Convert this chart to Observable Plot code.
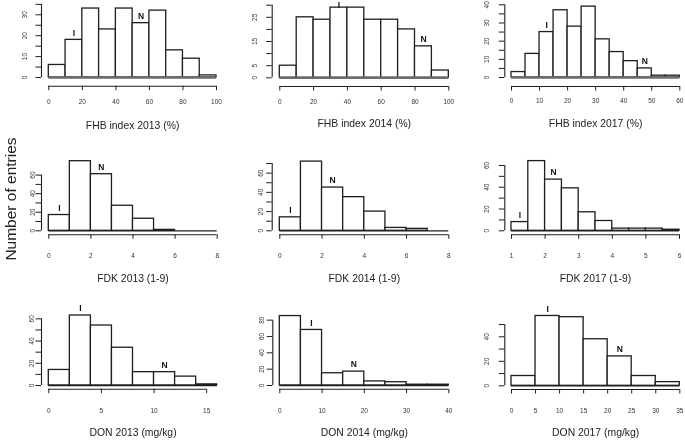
<!DOCTYPE html>
<html><head><meta charset="utf-8">
<script src="https://cdn.jsdelivr.net/npm/d3@7"></script>
<script src="https://cdn.jsdelivr.net/npm/@observablehq/plot@0.6"></script>
<style>
body{margin:0;background:#fff;}
#wrap{position:relative;width:685px;height:442px;overflow:hidden;background:#fff;font-family:"Liberation Sans",Arial,sans-serif;filter:grayscale(100%);}
#wrap svg{position:absolute;z-index:1;}
#ylab{position:absolute;z-index:5;left:11px;top:199px;transform:translate(-50%,-50%) rotate(-90deg);white-space:nowrap;font-family:"Liberation Sans",Arial,sans-serif;font-size:15.5px;color:#222;}
</style></head><body>
<div id="wrap"><div id="ylab">Number of entries</div></div>
<script>
// ---------- data ----------
const fhb2013Edges = [0,10,20,30,40,50,60,70,80,90,100];
const fhb2013Counts = [6,18,33,23,33,26,32,13,9,1];
const fhb2013XTicks = [0,20,40,60,80,100];
const fhb2013YTicks = [0,5,10,15,20,25,30,35];
const fhb2013YLabels = [0,10,20,30];
const fhb2013MarkText = ["I","N"];
const fhb2013MarkX = [15,55];

const fhb2014Edges = [0,10,20,30,40,50,60,70,80,90,100];
const fhb2014Counts = [5,25,24,29,29,24,24,20,13,3];
const fhb2014XTicks = [0,20,40,60,80,100];
const fhb2014YTicks = [0,5,10,15,20,25,30];
const fhb2014YLabels = [0,5,15,25];
const fhb2014MarkText = ["I","N"];
const fhb2014MarkX = [35,85];

const fhb2017Edges = [0,5,10,15,20,25,30,35,40,45,50,55,60];
const fhb2017Counts = [3,13,25,37,28,39,21,14,9,5,1,1];
const fhb2017XTicks = [0,10,20,30,40,50,60];
const fhb2017YTicks = [0,5,10,15,20,25,30,35,40];
const fhb2017YLabels = [0,10,20,30,40];
const fhb2017MarkText = ["I","N"];
const fhb2017MarkX = [12.5,47.5];

const fdk2013Edges = [0,1,2,3,4,5,6,7,8];
const fdk2013Counts = [17,75,61,27,13,1,0,0];
const fdk2013XTicks = [0,2,4,6,8];
const fdk2013YTicks = [0,10,20,30,40,50,60];
const fdk2013YLabels = [0,20,40,60];
const fdk2013MarkText = ["I","N"];
const fdk2013MarkX = [0.5,2.5];

const fdk2014Edges = [0,1,2,3,4,5,6,7,8];
const fdk2014Counts = [14,72,45,35,20,3,2,0];
const fdk2014XTicks = [0,2,4,6,8];
const fdk2014YTicks = [0,10,20,30,40,50,60,70];
const fdk2014YLabels = [0,20,40,60];
const fdk2014MarkText = ["I","N"];
const fdk2014MarkX = [0.5,2.5];

const fdk2017Edges = [1,1.5,2,2.5,3,3.5,4,4.5,5,5.5,6];
const fdk2017Counts = [8,64,47,39,17,9,2,2,2,1];
const fdk2017XTicks = [1,2,3,4,5,6];
const fdk2017YTicks = [0,10,20,30,40,50,60];
const fdk2017YLabels = [0,20,40,60];
const fdk2017MarkText = ["I","N"];
const fdk2017MarkX = [1.25,2.25];

const don2013Edges = [0,2,4,6,8,10,12,14,16];
const don2013Counts = [14,63,54,34,12,12,8,1];
const don2013XTicks = [0,5,10,15];
const don2013YTicks = [0,10,20,30,40,50,60];
const don2013YLabels = [0,20,40,60];
const don2013MarkText = ["I","N"];
const don2013MarkX = [3,11];

const don2014Edges = [0,5,10,15,20,25,30,35,40];
const don2014Counts = [85,68,15,17,5,4,1,1];
const don2014XTicks = [0,10,20,30,40];
const don2014YTicks = [0,20,40,60,80];
const don2014YLabels = [0,20,40,60,80];
const don2014MarkText = ["I","N"];
const don2014MarkX = [7.5,17.5];

const don2017Edges = [0,5,10,15,20,25,30,35];
const don2017Counts = [8,57,56,38,24,8,3];
const don2017XTicks = [0,5,10,15,20,25,30,35];
const don2017YTicks = [0,10,20,30,40,50];
const don2017YLabels = [0,20,40];
const don2017MarkText = ["I","N"];
const don2017MarkX = [7.5,22.5];

const titles = ["FHB index 2013 (%)","FHB index 2014 (%)","FHB index 2017 (%)",
  "FDK 2013 (1-9)","FDK 2014 (1-9)","FDK 2017 (1-9)",
  "DON 2013 (mg/kg)","DON 2014 (mg/kg)","DON 2017 (mg/kg)"];

const panels = [
  {edges:fhb2013Edges,counts:fhb2013Counts,xTicks:fhb2013XTicks,yTicks:fhb2013YTicks,yLabels:fhb2013YLabels,markText:fhb2013MarkText,markX:fhb2013MarkX},
  {edges:fhb2014Edges,counts:fhb2014Counts,xTicks:fhb2014XTicks,yTicks:fhb2014YTicks,yLabels:fhb2014YLabels,markText:fhb2014MarkText,markX:fhb2014MarkX},
  {edges:fhb2017Edges,counts:fhb2017Counts,xTicks:fhb2017XTicks,yTicks:fhb2017YTicks,yLabels:fhb2017YLabels,markText:fhb2017MarkText,markX:fhb2017MarkX},
  {edges:fdk2013Edges,counts:fdk2013Counts,xTicks:fdk2013XTicks,yTicks:fdk2013YTicks,yLabels:fdk2013YLabels,markText:fdk2013MarkText,markX:fdk2013MarkX},
  {edges:fdk2014Edges,counts:fdk2014Counts,xTicks:fdk2014XTicks,yTicks:fdk2014YTicks,yLabels:fdk2014YLabels,markText:fdk2014MarkText,markX:fdk2014MarkX},
  {edges:fdk2017Edges,counts:fdk2017Counts,xTicks:fdk2017XTicks,yTicks:fdk2017YTicks,yLabels:fdk2017YLabels,markText:fdk2017MarkText,markX:fdk2017MarkX},
  {edges:don2013Edges,counts:don2013Counts,xTicks:don2013XTicks,yTicks:don2013YTicks,yLabels:don2013YLabels,markText:don2013MarkText,markX:don2013MarkX},
  {edges:don2014Edges,counts:don2014Counts,xTicks:don2014XTicks,yTicks:don2014YTicks,yLabels:don2014YLabels,markText:don2014MarkText,markX:don2014MarkX},
  {edges:don2017Edges,counts:don2017Counts,xTicks:don2017XTicks,yTicks:don2017YTicks,yLabels:don2017YLabels,markText:don2017MarkText,markX:don2017MarkX}
];

// ---------- layout (page pixels) ----------
const layout = [
  {cell:[0,0,228,140],   axX:41,    px0:48.3,  px1:216,   by:77,    ppu:2.09,  xaxY:85.7,  xlabY:101,   ylabOff:17,   titleY:128,   band:true},
  {cell:[228,0,229,140], axX:271.7, px0:279.3, px1:448.3, by:77.3,  ppu:2.42,  xaxY:86,    xlabY:101,   ylabOff:17,   titleY:126.7, band:true},
  {cell:[457,0,228,140], axX:504.3, px0:511,   px1:679.3, by:77,    ppu:1.817, xaxY:86,    xlabY:100,   ylabOff:18,   titleY:126,   band:true},
  {cell:[0,140,228,150], axX:41,    px0:48.3,  px1:216.7, by:230.3, ppu:0.928, xaxY:234.3, xlabY:255,   ylabOff:9,    titleY:281.7},
  {cell:[228,140,229,150],axX:271.7,px0:279.3, px1:448.3, by:230.3, ppu:0.961, xaxY:234.3, xlabY:255,   ylabOff:11.4, titleY:281.7},
  {cell:[457,140,228,150],axX:504.3,px0:511,   px1:679,   by:230.3, ppu:1.089, xaxY:234.3, xlabY:255,   ylabOff:18,   titleY:281.7},
  {cell:[0,290,228,152], axX:41,    px0:48.3,  px1:216.7, by:385,   ppu:1.111, xaxY:388.7, xlabY:410.5, ylabOff:10,   titleY:435.7},
  {cell:[228,290,229,152],axX:272.3,px0:279.3, px1:448.3, by:385,   ppu:0.817, xaxY:388.7, xlabY:410.5, ylabOff:11,   titleY:435.7},
  {cell:[457,290,228,152],axX:504.3,px0:511,   px1:679.3, by:385.3, ppu:1.225, xaxY:389,   xlabY:410,   ylabOff:18,   titleY:435.7}
];

const INK = "#1e1e1e";
const TICKFONT = 6.5;
const MARK_GAP = 7;   // px between bar top and marker centre
const MARK_MINY = 4.6; // keep marker inside the picture

function drawPanel(d, L, title) {
  const [cl, ct, cw, ch] = L.cell;
  const xmin = d.edges[0], xmax = d.edges[d.edges.length - 1];
  const kx = (L.px1 - L.px0) / (xmax - xmin);
  const axisXVal = xmin - (L.px0 - L.axX) / kx;
  const yLabelXVal = axisXVal - L.ylabOff / kx;
  const yTop = d.yTicks[d.yTicks.length - 1];
  const yLow = -(L.xaxY - L.by) / L.ppu;
  const yMaxVisible = (L.by - ct - MARK_MINY) / L.ppu;
  const bins = d.counts.map((c, i) => ({x1: d.edges[i], x2: d.edges[i + 1], c}));
  const markers = d.markText.map((t, i) => {
    const x = d.markX[i];
    const bi = d.edges.findIndex((e, j) => j < d.counts.length && x >= e && x < d.edges[j + 1]);
    const c = d.counts[bi];
    return {t, x, y: Math.min(c + MARK_GAP / L.ppu, yMaxVisible)};
  });
  const frameRight = L.px1 + (L.px0 - L.axX);
  const ySize = 5.5, xSize = 4.5;
  const svg = Plot.plot({
    width: cw, height: ch,
    marginLeft: L.axX - cl,
    marginRight: cw - (frameRight - cl),
    marginTop: 0,
    marginBottom: ch - (L.xaxY - ct),
    style: {background: "transparent", fontFamily: '"Liberation Sans", Arial, sans-serif'},
    x: {domain: [xmin, xmax], range: [L.px0 - cl, L.px1 - cl]},
    y: {domain: [0, yTop], range: [L.by - ct, L.by - ct - yTop * L.ppu]},
    marks: [
      Plot.rect(bins, {x1: "x1", x2: "x2", y1: 0, y2: "c", fill: "white", stroke: INK, strokeWidth: 1.3, inset: 0}),
      L.band
        ? Plot.ruleY([0], {x1: xmin, x2: xmax, stroke: "#6c6c6c", strokeWidth: 2.6})
        : Plot.ruleY([0], {x1: xmin, x2: xmax, stroke: INK, strokeWidth: 1.3}),
      Plot.ruleX([axisXVal], {y1: 0, y2: yTop, stroke: INK, strokeWidth: 1.1}),
      Plot.axisY({ticks: d.yTicks, tickSize: ySize, tickFormat: () => "", label: null, stroke: INK}),
      Plot.text(d.yLabels, {x: yLabelXVal, y: v => v, text: v => String(v), rotate: -90,
        textAnchor: "middle", lineAnchor: "middle", fontSize: TICKFONT, fill: "#333"}),
      Plot.ruleY([yLow], {x1: d.xTicks[0], x2: d.xTicks[d.xTicks.length - 1], stroke: INK, strokeWidth: 1.1}),
      Plot.axisX({ticks: d.xTicks, tickSize: xSize, tickPadding: L.xlabY - L.xaxY - xSize - 0.36 * TICKFONT,
        tickFormat: v => String(v), fontSize: TICKFONT, label: null, stroke: INK, fill: "#333"}),
      Plot.text(markers, {x: "x", y: "y", text: "t", lineAnchor: "middle", fontWeight: "bold", fontSize: 8.5, fill: "#111"}),
      Plot.text([title], {frameAnchor: "bottom", text: t => t, dy: L.titleY - L.xaxY, fontSize: 10.4, fill: "#222"})
    ]
  });
  svg.style.left = cl + "px";
  svg.style.top = ct + "px";
  return svg;
}

const wrap = document.getElementById("wrap");
panels.forEach((d, i) => wrap.appendChild(drawPanel(d, layout[i], titles[i])));
</script>
</body></html>
